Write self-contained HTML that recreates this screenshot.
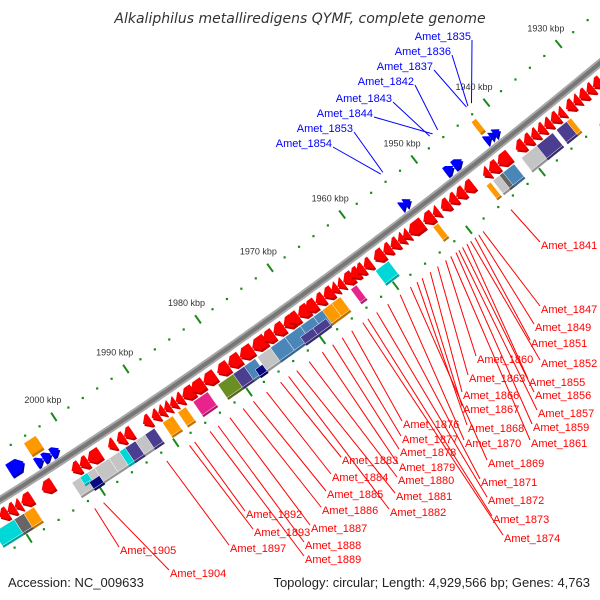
<!DOCTYPE html>
<html><head><meta charset="utf-8"><style>
html,body{margin:0;padding:0;background:#fff;}
svg{display:block;font-family:"Liberation Sans",sans-serif;}
</style></head><body>
<svg id="chart" width="600" height="600" viewBox="0 0 600 600">
<rect width="600" height="600" fill="#fff"/>
<g id="features"></g>
<text x="300" y="23" text-anchor="middle" font-size="14" font-style="italic" fill="#333" style="font-family:'DejaVu Sans',sans-serif">Alkaliphilus metalliredigens QYMF, complete genome</text>
<text x="8" y="587" font-size="13" fill="#222">Accession: NC_009633</text>
<text x="590" y="587" text-anchor="end" font-size="13" fill="#222">Topology: circular; Length: 4,929,566 bp; Genes: 4,763</text>
</svg>
<script>
// ---- data (kbp) ----
const tickKbp = [1930,1940,1950,1960,1970,1980,1990,2000];
const tickLabels = ["1930 kbp","1940 kbp","1950 kbp","1960 kbp","1970 kbp","1980 kbp","1990 kbp","2000 kbp"];
const redStart = [2011.6,2010.5,2009.5,2008.6,2005.8,2001.7,2000.6,1999.5,1996.7,1995.5,1994.5,1991.9,1990.7,1989.8,1989.0,1988.2,1987.4,1986.5,1985.3,1983.6,1981.7,1980.2,1978.6,1976.9,1975.4,1974.0,1972.6,1971.9,1970.6,1969.6,1968.2,1967.1,1966.0,1965.2,1964.4,1963.4,1962.6,1961.6,1960.2,1958.9,1957.9,1956.9,1956.2,1955.4,1953.4,1952.1,1951.0,1949.9,1948.9,1947.8,1945.2,1944.4,1943.2,1940.7,1939.6,1938.6,1937.7,1936.8,1935.9,1934.9,1933.8,1932.8,1932.0,1931.0,1930.1];
const redEnd   = [2010.5,2009.5,2008.7,2007.2,2004.3,2000.6,1999.5,1997.8,1995.8,1994.5,1993.4,1990.9,1989.8,1989.0,1988.2,1987.4,1986.5,1985.0,1983.6,1982.0,1980.2,1978.6,1976.9,1975.1,1974.0,1972.6,1971.3,1970.6,1969.2,1968.2,1967.1,1965.9,1965.2,1964.4,1963.1,1962.3,1961.6,1960.6,1958.9,1957.9,1956.9,1956.1,1955.4,1953.5,1952.1,1951.3,1949.9,1948.9,1947.8,1946.6,1944.4,1943.2,1941.6,1939.6,1938.6,1937.7,1936.8,1935.9,1934.9,1934.1,1932.8,1932.0,1931.0,1930.1,1929.0];
const blueStart = [2007.8,2004.7,2003.7,2002.6,1954.4,1953.8,1948.2,1947.1,1942.7,1942.0,1941.5];
const blueEnd   = [2005.8,2003.7,2002.6,2001.5,1953.6,1953.0,1947.1,1945.9,1941.9,1941.3,1940.7];
const blueRow   = [1,0,0,0,0,0,0,0,0,0,0];
const outerStart = [2004.6,1942.6];
const outerEnd   = [2003.0,1942.0];
const cogStart = [2013.1,2010.3,2009.0,2002.4,2001.3,2000.7,1999.3,1997.3,1995.9,1995.1,1993.7,1992.4,1990.0,1987.9,1985.8,1982.4,1980.3,1978.8,1978.0,1977.0,1975.2,1973.2,1971.1,1969.3,1971.8,1970.1,1968.1,1966.8,1964.2,1960.8,1952.9,1945.6,1944.7,1943.8,1943.3,1940.8,1938.7,1936.0,1934.6];
const cogEnd   = [2010.3,2008.7,2007.6,1999.3,2000.3,1999.3,1997.3,1995.9,1994.8,1993.7,1992.2,1991.1,1988.6,1986.8,1983.8,1979.9,1978.5,1977.3,1977.0,1975.2,1973.2,1971.1,1969.3,1967.7,1970.1,1968.3,1966.3,1965.6,1963.4,1959.0,1952.2,1945.0,1943.6,1942.9,1941.8,1938.3,1936.5,1934.5,1934.0];
const cogCat   = ["C","D","O","G","C","N","G","G","C","P","G","P","O","O","M","V","P","S","N","G","S","S","S","S","P","P","O","O","M","C","O","O","G","D","S","G","P","P","O"];
const cogRow   = [0,0,0,0,1,2,0,0,0,0,0,0,0,0,0,0,0,0,2,0,0,0,0,0,2,2,0,0,0,0,0,0,0,0,0,0,0,0,0];
const redNames = ["Amet_1841","Amet_1847","Amet_1849","Amet_1851","Amet_1852","Amet_1855","Amet_1856","Amet_1857","Amet_1859","Amet_1860","Amet_1861","Amet_1863","Amet_1866","Amet_1867","Amet_1868","Amet_1869","Amet_1870","Amet_1871","Amet_1872","Amet_1873","Amet_1874","Amet_1876","Amet_1877","Amet_1878","Amet_1879","Amet_1880","Amet_1881","Amet_1882","Amet_1883","Amet_1884","Amet_1885","Amet_1886","Amet_1887","Amet_1888","Amet_1889","Amet_1892","Amet_1893","Amet_1897","Amet_1904","Amet_1905"];
const redAnchor = [1945.1,1948.9,1949.5,1950.0,1950.6,1951.1,1951.7,1952.2,1952.6,1954.0,1953.3,1955.1,1956.1,1957.2,1957.9,1958.8,1960.2,1961.9,1963.4,1964.6,1965.3,1966.8,1968.1,1969.4,1970.8,1972.6,1974.3,1975.4,1976.5,1978.4,1980.2,1981.6,1983.4,1985.0,1986.1,1988.2,1988.9,1992.0,2000.6,2001.8];
const blueNames = ["Amet_1835","Amet_1836","Amet_1837","Amet_1842","Amet_1843","Amet_1844","Amet_1853","Amet_1854"];
const blueAnchor = [1941.3,1941.8,1942.0,1946.0,1947.1,1946.7,1953.6,1953.9];

// ---- layout ----
const redLabelPos = [[541,245],[541,309],[535,327],[531,343],[541,363],[529,382],[535,395],[538,413],[533,427],[477,359],[531,443],[469,378],[463,395],[463,409],[468,428],[488,463],[465,443],[481,482],[488,500],[493,519],[504,538],[403,424],[402,439],[400,452],[399,467],[398,480],[396,496],[390,512],[342,460],[332,477],[327,494],[322,510],[311,528],[305,545],[305,559],[246,514],[254,532],[230,548],[170,573],[120,550]];
const blueLabelPos = [[471,36],[451,51],[433,66],[414,81],[392,98],[373,113],[353,128],[332,143]];
const cogColors = {C:"#00d8d8",D:"#666666",O:"#ff9900",G:"#c4c4c4",N:"#0a0a80",P:"#4b3d8f",M:"#e8238c",V:"#6b8e23",S:"#4a86b8"};
const K0 = 2010.5, KSPAN = 82.6;
const NS = "http://www.w3.org/2000/svg";
const layer = document.getElementById('features');

function pos(k, off){
  const t = (K0 - k)/KSPAN;
  const x = 600*t;
  const y = (1-t)*(1-t)*500 + 2*t*(1-t)*312 + t*t*63;
  const dy = 2*(1-t)*(312-500) + 2*t*(63-312);
  const len = Math.sqrt(600*600 + dy*dy);
  return [x + (-dy/len)*off, y + (600/len)*off];
}
function mk(tag, attrs){
  const e = document.createElementNS(NS, tag);
  for (const a in attrs) e.setAttribute(a, attrs[a]);
  layer.appendChild(e);
  return e;
}
function pts(arr, dx, dy){ return arr.map(p => (p[0]+(dx||0)).toFixed(1)+','+(p[1]+(dy||0)).toFixed(1)).join(' '); }
function boxPts(a, b, c, h){ return [pos(a,c-h),pos(b,c-h),pos(b,c+h),pos(a,c+h)]; }
function arrowLeft(a, b, c, h){
  const ah = Math.min(0.7, (a-b));
  return [pos(a,c),pos(a-ah,c-h),pos(b,c-h),pos(b,c+h),pos(a-ah,c+h)];
}
function arrowRight(a, b, c, h){
  const ah = Math.min(0.7, (a-b));
  return [pos(a,c-h),pos(b+ah,c-h),pos(b,c),pos(b+ah,c+h),pos(a,c+h)];
}

for (let k = 1926; k <= 2012; k += 2) {
  [-41, 48].forEach(function(off){
    if (k % 10 === 0) {
      const p1 = pos(k, off-5), p2 = pos(k, off+5);
      const d = mk('line', {x1:p1[0],y1:p1[1],x2:p2[0],y2:p2[1],stroke:'#1a8a1a','stroke-width':2});
      
      
    } else {
      const p = pos(k, off);
      const d = mk('rect', {x:p[0]-1,y:p[1]-1,width:2.2,height:2.2,fill:'#1a8a1a'});
      
      
    }
  });
}
tickKbp.forEach(function(k, i){
  const p = pos(k, -61);
  const t = mk('text', {x:p[0], y:p[1]+3, 'text-anchor':'middle', 'font-size':9, fill:'#333'});
  t.textContent = tickLabels[i];
  
  
});
(function(){
  const arr = [];
  for (let k = 2014; k >= 1925; k -= 0.5) arr.push(pos(k, 0));
  const d = 'M' + arr.map(p => p[0].toFixed(1)+' '+p[1].toFixed(1)).join(' L');
  const b1 = mk('path', {d:d, fill:'none', stroke:'#a8a8a8', 'stroke-width':8});
  
  
  const b2 = mk('path', {d:d, fill:'none', stroke:'#777', 'stroke-width':4});
  
  
})();
redStart.forEach(function(a, i){
  const p = arrowLeft(a, redEnd[i], 14, 6.5);
  const s = mk('polygon', {points:pts(p,1.5,2), fill:'#c00000'});
  
  
  const g = mk('polygon', {points:pts(p), fill:'#ff0000'});
  
  
});
blueStart.forEach(function(a, i){
  const c = blueRow[i] ? -20 : -12, h = blueRow[i] ? 7 : 5;
  const p = arrowRight(a, blueEnd[i], c, h);
  const s = mk('polygon', {points:pts(p,1.5,2), fill:'#0000a8'});
  
  
  const g = mk('polygon', {points:pts(p), fill:'#0000ff'});
  
  
});
outerStart.forEach(function(a, i){
  const p = boxPts(a, outerEnd[i], -28, 7);
  const s = mk('polygon', {points:pts(p,1.5,2), fill:'#c77700'});
  
  
  const g = mk('polygon', {points:pts(p), fill:'#ff9900'});
  
  
});
cogStart.forEach(function(a, i){
  const row = cogRow[i];
  const c = row === 0 ? 32 : (row === 1 ? 28 : 37);
  const h = row === 0 ? 8 : 4;
  const p = boxPts(a, cogEnd[i], c, h);
  const col = cogColors[cogCat[i]];
  const s = mk('polygon', {points:pts(p,1.5,2), fill:col});
  
  
  const s2 = mk('polygon', {points:pts(p,1.5,2), fill:'#000', 'fill-opacity':0.25});
  
  
  const g = mk('polygon', {points:pts(p), fill:col, stroke:'#fff', 'stroke-width':0.5});
  
  
});
redNames.forEach(function(n, i){
  const a = pos(redAnchor[i], 58);
  const lp = redLabelPos[i];
  const l = mk('line', {x1:a[0], y1:a[1], x2:lp[0]-1, y2:lp[1]-3, stroke:'#ff0000', 'stroke-width':1});
  
  
  const t = mk('text', {x:lp[0], y:lp[1]+4, 'font-size':11, fill:'#ff0000'});
  t.textContent = n;
  
  
});
blueNames.forEach(function(n, i){
  const a = pos(blueAnchor[i], -50);
  const lp = blueLabelPos[i];
  const l = mk('line', {x1:a[0], y1:a[1], x2:lp[0]+1, y2:lp[1]+4, stroke:'#0000ff', 'stroke-width':1});
  
  
  const t = mk('text', {x:lp[0], y:lp[1]+4, 'font-size':11, fill:'#0000ff', 'text-anchor':'end'});
  t.textContent = n;
  
  
});
</script>
</body></html>
